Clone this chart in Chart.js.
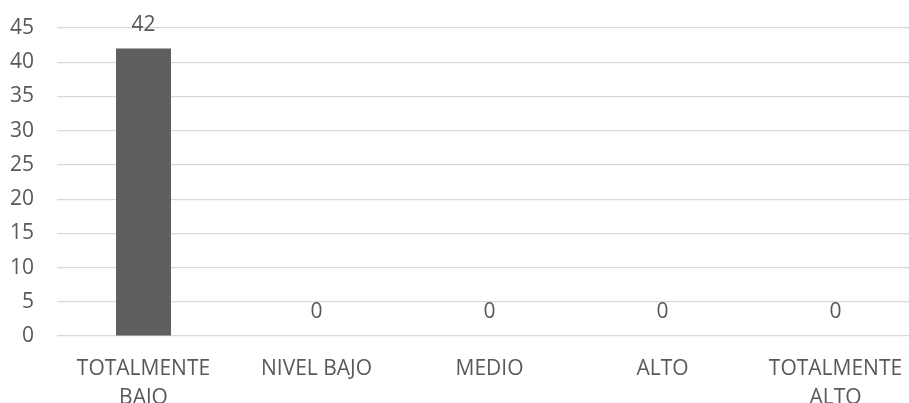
<!DOCTYPE html>
<html>
<head>
<meta charset="utf-8">
<script src="https://cdn.jsdelivr.net/npm/chart.js@4"></script>
<style>
  html, body { margin: 0; padding: 0; overflow: hidden; background: #ffffff; }
  #wrap { width: 930px; height: 403px; position: relative; }
</style>
</head>
<body>
<div id="wrap"><canvas id="c"></canvas></div>
<script>
const categories = [["TOTALMENTE", "BAJO"], "NIVEL BAJO", "MEDIO", "ALTO", ["TOTALMENTE", "ALTO"]];
const values = [42, 0, 0, 0, 0];
const yTicks = { min: 0, max: 45, step: 5 };

const textColor = '#595959';
const fontFamily = '"Open Sans", sans-serif';

const valueLabels = {
  id: 'valueLabels',
  afterDatasetsDraw(chart) {
    const ctx = chart.ctx;
    const meta = chart.getDatasetMeta(0);
    ctx.save();
    ctx.font = '21px ' + fontFamily;
    ctx.fillStyle = textColor;
    ctx.textAlign = 'center';
    ctx.textBaseline = 'middle';
    meta.data.forEach((bar, i) => {
      ctx.fillText(String(values[i]), bar.x, bar.y - 24);
    });
    ctx.restore();
  }
};

new Chart(document.getElementById('c'), {
  type: 'bar',
  data: {
    labels: categories,
    datasets: [{
      data: values,
      backgroundColor: '#5f5f5f',
      borderWidth: 0,
      categoryPercentage: 1,
      barPercentage: 0.318
    }]
  },
  options: {
    responsive: true,
    maintainAspectRatio: false,
    animation: false,
    layout: { padding: { top: 28, right: 8, left: 0, bottom: 0 } },
    plugins: { legend: { display: false }, tooltip: { enabled: false } },
    scales: {
      x: {
        grid: { display: false, drawTicks: false },
        border: { display: false },
        ticks: {
          color: textColor,
          font: { family: fontFamily, size: 21, lineHeight: 1.38 },
          padding: 19,
          maxRotation: 0,
          autoSkip: false
        },
        afterFit(scale) { scale.height = 67; }
      },
      y: {
        min: yTicks.min,
        max: yTicks.max,
        grid: { color: '#d9d9d9', lineWidth: 1.2, drawTicks: false },
        border: { display: false },
        ticks: {
          stepSize: yTicks.step,
          color: textColor,
          font: { family: fontFamily, size: 21 },
          padding: 23
        },
        afterFit(scale) {
          scale.width = 57;
          scale.paddingTop = 0;
          scale.paddingBottom = 0;
        }
      }
    }
  },
  plugins: [valueLabels]
});
</script>
</body>
</html>
